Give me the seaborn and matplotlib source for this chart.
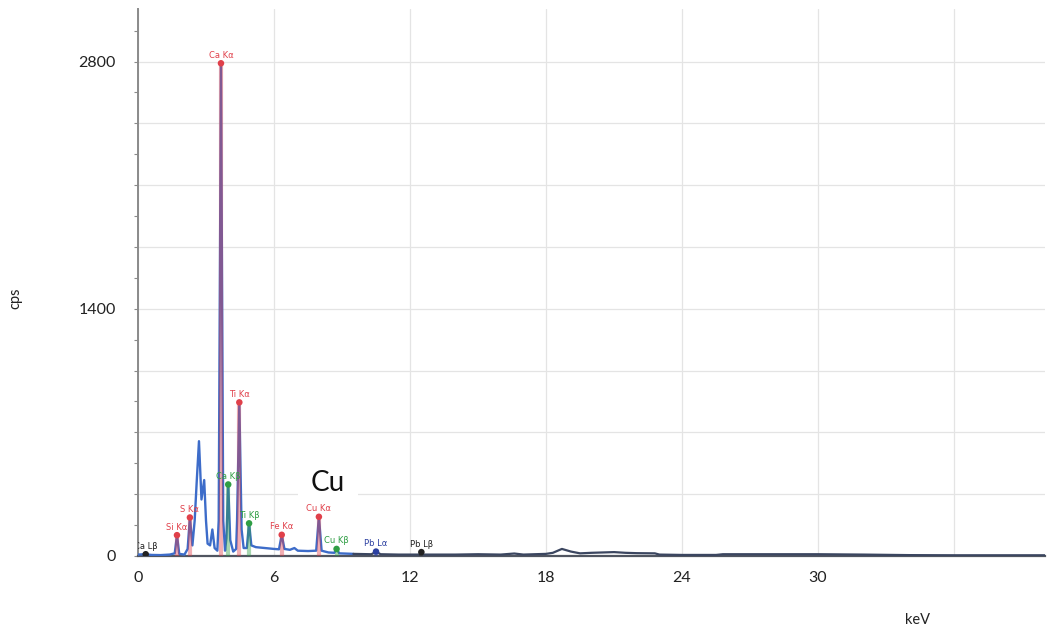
import numpy as np
import pandas as pd
import matplotlib
matplotlib.use("Agg")
import matplotlib.pyplot as plt
from matplotlib.ticker import MultipleLocator
import seaborn as sns

# EDS spectrum trace: energy (keV) and counts per second
energy_kev = [0.0, 0.3, 0.6, 1.0, 1.4, 1.62, 1.72, 1.82, 2.05, 2.19, 2.29, 2.40, 2.50, 2.59,
              2.69, 2.80, 2.92, 3.00, 3.07, 3.18, 3.28, 3.38, 3.50, 3.56, 3.66, 3.76, 3.84,
              3.90, 3.98, 4.07, 4.20, 4.33, 4.37, 4.47, 4.57, 4.66, 4.80, 4.90, 5.00, 5.20,
              5.60, 6.00, 6.22, 6.34, 6.46, 6.70, 6.90, 7.05, 7.50, 7.86, 7.98, 8.10, 8.40,
              8.66, 8.76, 8.88, 9.50, 10.3, 10.5, 10.7, 11.5, 12.4, 12.5, 12.6, 14.0, 15.0,
              16.0, 16.6, 17.0, 18.0, 18.3, 18.7, 19.1, 19.5, 20.0, 20.5, 21.0, 21.5, 22.0,
              22.8, 23.0, 24.0, 25.5, 25.8, 30.0, 32.0, 34.0, 36.0, 40.0]
cps = [8, 10, 6, 5, 8, 15, 118, 12, 8, 40, 218, 60, 200, 420,
       650, 320, 430, 200, 70, 60, 150, 45, 30, 200, 2790, 200, 30,
       100, 405, 90, 25, 40, 200, 870, 150, 45, 45, 185, 60, 50,
       45, 40, 38, 120, 40, 35, 45, 30, 28, 30, 222, 30, 20,
       18, 40, 15, 12, 10, 25, 10, 8, 8, 22, 8, 8, 10,
       8, 14, 8, 12, 18, 40, 25, 15, 18, 20, 22, 18, 16,
       15, 8, 6, 6, 10, 10, 8, 5, 4, 4]

# Identified lines: label, energy, peak height, label colour
line_labels = ["Ca Lβ", "Si Kα", "S Kα", "Ca Kα", "Ca Kβ", "Ti Kα", "Ti Kβ", "Fe Kα",
               "Cu Kα", "Cu Kβ", "Pb Lα", "Pb Lβ"]
line_energy = [0.34, 1.72, 2.29, 3.66, 3.98, 4.47, 4.90, 6.34, 7.98, 8.76, 10.5, 12.5]
line_height = [10, 118, 218, 2790, 405, 870, 185, 120, 222, 40, 25, 22]
line_color = ["#222222", "#e0404a", "#e0404a", "#e0404a", "#2f9e44", "#e0404a", "#2f9e44",
              "#e0404a", "#e0404a", "#2f9e44", "#2b3fa0", "#222222"]

x_ticks = [0, 6, 12, 18, 24, 30, 36]
x_tick_labels = ["0", "6", "12", "18", "24", "30", ""]
y_ticks = [0, 350, 700, 1050, 1400, 1750, 2100, 2450, 2800]
y_tick_labels = ["0", "", "", "", "1400", "", "", "", "2800"]

sns.set_theme(style="white")
plt.rcParams["font.family"] = ["Lato", "DejaVu Sans"]

fig = plt.figure(figsize=(10.55, 6.36), dpi=100)
ax = fig.add_axes([0.1308, 0.1258, 0.8595, 0.8608])

df = pd.DataFrame({"energy": energy_kev, "cps": cps})
low = df[df["energy"] <= 9.5]
high = df[df["energy"] >= 9.5]

sns.lineplot(data=low, x="energy", y="cps", sort=False, ax=ax, color="#3d6cc9", lw=1.7, zorder=3)
sns.lineplot(data=high, x="energy", y="cps", sort=False, ax=ax, color="#3b4660", lw=1.6, zorder=3)

# tinted bars over the identified peaks
ax.vlines(line_energy, 0, line_height, colors=line_color, lw=3.0, alpha=0.42, zorder=3.5)

sns.scatterplot(x=line_energy, y=line_height, hue=line_labels, palette=line_color,
                s=22, edgecolor="none", legend=False, ax=ax, zorder=4)

for lab, e, h, c in zip(line_labels, line_energy, line_height, line_color):
    ax.annotate(lab, (e, h), xytext=(0, 2.5), textcoords="offset points",
                ha="center", va="bottom", fontsize=6, color=c,
                family=["DejaVu Sans"], zorder=6, annotation_clip=False, clip_on=True)

ax.text(8.38, 413, "Cu", fontsize=20, color="#111111", ha="center", va="center",
        bbox=dict(boxstyle="square,pad=0.45", fc="white", ec="none"), zorder=5)

ax.set_xlim(0, 40)
ax.set_ylim(0, 3100)
ax.set_xticks(x_ticks)
ax.set_xticklabels(x_tick_labels)
ax.set_yticks(y_ticks)
ax.set_yticklabels(y_tick_labels)
ax.yaxis.set_minor_locator(MultipleLocator(175))

ax.grid(True, which="major", color="#e4e4e4", lw=0.9)
ax.set_axisbelow(True)

for side in ["top", "right"]:
    ax.spines[side].set_visible(False)
ax.spines["left"].set_color("#8a8a8a")
ax.spines["left"].set_linewidth(1.4)
ax.spines["bottom"].set_color("#505560")
ax.spines["bottom"].set_linewidth(1.6)

ax.tick_params(axis="x", length=0, pad=11, labelsize=11.5, colors="#222222")
ax.tick_params(axis="y", which="major", length=3, width=0.8, color="#8a8a8a",
               direction="out", pad=13, labelsize=11.5, labelcolor="#222222", left=True)
ax.tick_params(axis="y", which="minor", length=3, width=0.8, color="#8a8a8a",
               direction="out", left=True)

ax.set_xlabel("keV", fontsize=10.5, color="#222222")
ax.set_ylabel("cps", fontsize=10.5, color="#222222")
ax.xaxis.set_label_coords(0.860, -0.104)
ax.yaxis.set_label_coords(-0.127, 0.471)

fig.savefig("out.png", dpi=100, facecolor="white")
